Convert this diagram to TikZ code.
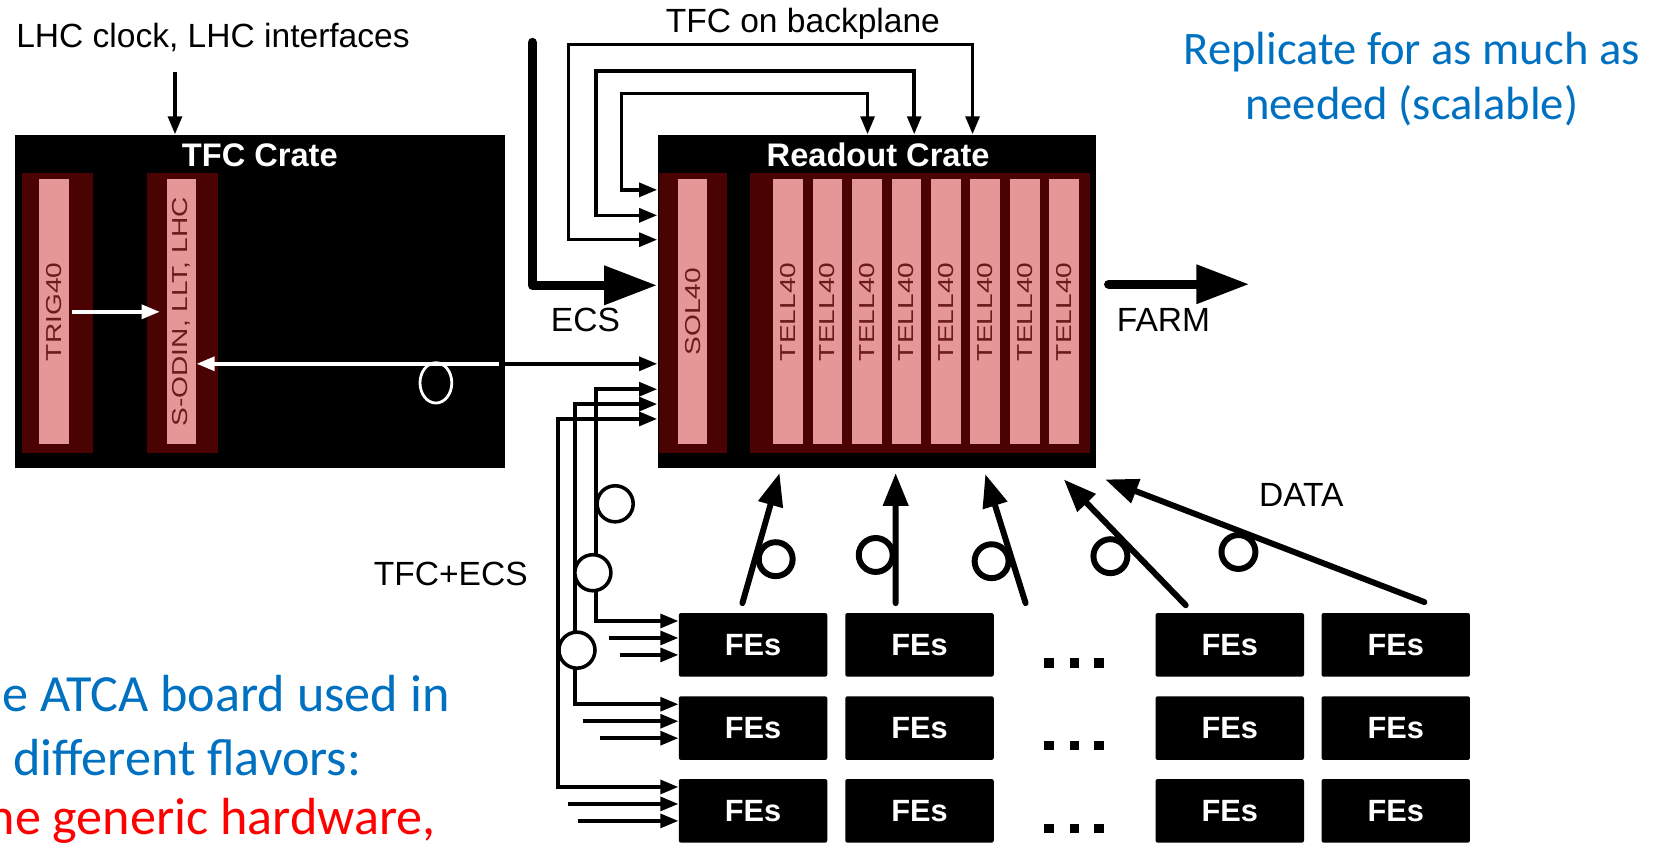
\documentclass[tikz,border=0pt]{standalone}
\usepackage{fontspec}
\setmainfont{Liberation Sans}
\newfontfamily\slidefont{Carlito}
\usepackage{graphicx}
\usetikzlibrary{arrows.meta,calc}

\definecolor{slotred}{HTML}{4A0202}
\definecolor{slotpink}{HTML}{E59797}
\definecolor{slotink}{HTML}{6A1A1A}
\definecolor{slideblue}{HTML}{0070C0}
\definecolor{slidered}{HTML}{FF0000}

\tikzset{
  bt/.tip={Triangle[length=3.4mm,width=2.6mm]},
  bus/.style={line width=1.9pt},
  fatarrow/.style={line width=5pt, line cap=round, line join=round, -{Triangle[length=10mm,width=7mm]}},
  datalink/.style={line width=3.2pt, line cap=round, -{Triangle[length=6.2mm,width=4.6mm]}},
  dataloop/.style={circle, draw, line width=3.2pt, minimum size=6.4mm, inner sep=0pt},
  fibreloop/.style={circle, draw, fill=white, line width=1.9pt, minimum size=6.8mm, inner sep=0pt},
  lbl/.style={font=\fontsize{18}{20}\selectfont, inner sep=0pt},
  crate/.style={fill=black, inner sep=0pt, minimum height=62.8mm},
  cratetitle/.style={text=white, font=\bfseries\fontsize{17.5}{19}\selectfont, inner sep=0pt},
  board/.style={fill=slotpink, text=slotink, minimum width=5.6mm, minimum height=50mm, inner sep=0pt, font=\fontsize{11.6}{12}\selectfont},
  fe/.style={fill=black, text=white, minimum width=28mm, minimum height=12mm, inner sep=0pt, rounded corners=0.4mm, font=\bfseries\fontsize{16.5}{18}\selectfont},
  slidetxt/.style={font=\slidefont\fontsize{25}{30}\selectfont, text=slideblue, inner sep=0pt},
  slidebig/.style={slidetxt, font=\slidefont\fontsize{28}{33}\selectfont},
}
\def\vlbl#1{\rotatebox{90}{\scalebox{1.3}[1]{#1}}}

\begin{document}
\begin{tikzpicture}[x=0.2mm,y=-0.2mm]
  % 1 unit = 1 px of the 1568x796 slide crop, y downwards
  \useasboundingbox (0,0) rectangle (1568,796);

  % crates and their boards
  \node[crate, minimum width=92.4mm] (tfc) at (245,284) {};
  \node[crate, minimum width=82.6mm] (rc) at (826.5,284) {};
  \node[cratetitle, anchor=base] (tfct) at (245,157) {TFC Crate};
  \node[cratetitle, anchor=base] (rct) at (828,157) {Readout Crate};
  \fill[slotred] (21,163) rectangle (88,427);
  \fill[slotred] (139,163) rectangle (206,427);
  \fill[slotred] (621,163) rectangle (685,427);
  \fill[slotred] (707,163) rectangle (1028,427);
  \node[board] (trig) at (51,294) {\vlbl{TRIG40}};
  \node[board] (sodin) at (171,294) {\vlbl{S-ODIN, LLT, LHC}};
  \node[board] (sol) at (653,294) {\vlbl{SOL40}};
  \foreach \i in {0,...,7}
    \node[board] (tell\i) at (743+37.2*\i,294) {\vlbl{TELL40}};

  % inside the TFC crate
  \coordinate (lnk) at (0,343);
  \draw[bus, white, -bt, shorten <=0.6mm, shorten >=1.2mm] (trig) -- (sodin);
  \draw[bus, white, -bt, shorten <=1.2mm] (tfc.east |- lnk) -- (sodin.east |- lnk);
  \draw[white, line width=1.5pt] (411,361) ellipse [x radius=3mm, y radius=3.8mm];
  \draw[bus, -bt] (tfc.east |- lnk) -- (rc.west |- lnk);

  % LHC clock in
  \node[lbl, anchor=base west] (lhc) at (15,45) {LHC clock, LHC interfaces};
  \coordinate (clk) at (165,68);
  \draw[bus, -bt] (clk) -- (clk |- tfc.north);

  % TFC on backplane
  \node[lbl, anchor=base] (bkp) at (757,31) {TFC on backplane};
  \foreach \ya/\xv/\yt/\xd in {179/586/88/818, 203/562/67/862, 226/536/42/917}
    \draw[bus, bt-bt] (rc.west |- 0,\ya) -| (\xv,\yt) -| (rc.north -| \xd,0);

  % ECS and FARM
  \coordinate (ecs) at (502,40);
  \draw[fatarrow] (ecs) |- (rc.west |- 0,269);
  \node[lbl, anchor=base] (ecsl) at (552,313) {ECS};
  \coordinate (farm) at (1178,268);
  \draw[fatarrow, shorten <=2.4mm] (rc.east |- farm) -- (farm);
  \node[lbl, anchor=base] (farml) at (1097,313) {FARM};

  % front-ends
  \foreach \r/\y in {1/608,2/686.5,3/764.5}
    \foreach \c/\x in {1/710,2/867,3/1159.5,4/1316}
      \node[fe] (fe\r\c) at (\x,\y) {FEs};
  \foreach \y in {625,703,781}
    \foreach \x in {989,1013,1036}
      \fill (\x-4.5,\y-4.5) rectangle ++(9,9);

  % TFC+ECS distribution
  \node[lbl, anchor=base] (tfcecs) at (425,552) {TFC+ECS};
  \foreach \r/\ya/\xv in {1/367/562, 2/381/542, 3/395/526} {
    \coordinate (w\r) at ([yshift=4.5mm]fe\r1.west);
    \draw[bus, bt-bt] (rc.west |- 0,\ya) -| (\xv,0 |- w\r) -- (w\r);
  }
  \foreach \r/\sa/\sb in {1/65/55, 2/90/74, 3/104/95} {
    \draw[bus, -bt] ([xshift=-\sa*0.2mm, yshift=1.3mm]fe\r1.west) -- ([yshift=1.3mm]fe\r1.west);
    \draw[bus, -bt] ([xshift=-\sb*0.2mm, yshift=-1.9mm]fe\r1.west) -- ([yshift=-1.9mm]fe\r1.west);
  }
  \node[fibreloop] (lp1) at (580,475) {};
  \node[fibreloop] (lp2) at (559,540) {};
  \node[fibreloop] (lp3) at (544,613) {};

  % DATA links up to the readout crate
  \coordinate (in1) at (735,446);
  \coordinate (in2) at (844.5,446);
  \coordinate (in3) at (929,447);
  \coordinate (in4) at (1003,452);
  \coordinate (in5) at (1042,452);
  \draw[datalink] ($(fe11.north)+(-10,-9)$) -- node[dataloop, pos=.38, anchor=164] (dl1) {} (in1);
  \draw[datalink] ($(fe12.north)+(-22.5,-9)$) -- node[dataloop, pos=.37, anchor=0] (dl2) {} (in2);
  \draw[datalink] ($(fe12.north)+(100,-9)$) -- node[dataloop, pos=.37, anchor=17] (dl3) {} (in3);
  \draw[datalink] ($(fe13.north)+(-41.5,-7)$) -- node[dataloop, pos=.5, anchor=44] (dl4) {} (in4);
  \draw[datalink] ($(fe14.north)+(27,-10)$) -- node[dataloop, pos=.56, anchor=69] (dl5) {} (in5);
  \node[lbl, anchor=base] (datal) at (1227,478) {DATA};

  % slide text round the figure
  \node[slidetxt, anchor=base] (rep1) at (1331,61) {Replicate for as much as};
  \node[slidetxt, anchor=base] (rep2) at (1331,113) {needed (scalable)};
  \node[slidebig, anchor=base west] (atca1) at (2,671) {e ATCA board used in};
  \node[slidebig, anchor=base west] (atca2) at (12,731) {different flavors:};
  \node[slidebig, text=slidered, anchor=base west] (atca3) at (-12,787) {ne generic hardware,};
\end{tikzpicture}
\end{document}
